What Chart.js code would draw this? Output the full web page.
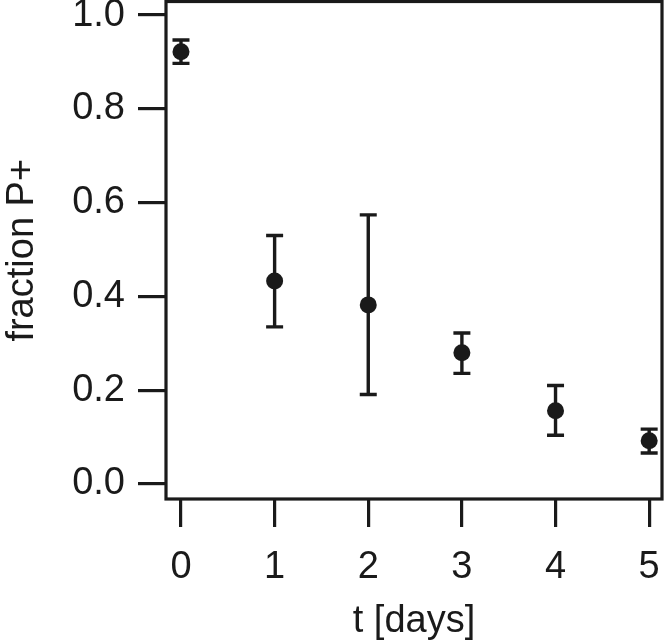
<!DOCTYPE html>
<html>
<head>
<meta charset="utf-8">
<script src="https://cdn.jsdelivr.net/npm/chart.js@4"></script>
<style>
  html, body { margin: 0; padding: 0; background: #fff; }
  #wrap { width: 666px; height: 640px; }
</style>
</head>
<body>
<div id="wrap"><canvas id="fracChart" width="666" height="640"></canvas></div>
<script>
const days = [0, 1, 2, 3, 4, 5];
const fraction = [0.922, 0.433, 0.382, 0.280, 0.156, 0.092];
const upper = [0.947, 0.530, 0.574, 0.322, 0.210, 0.117];
const lower = [0.897, 0.335, 0.191, 0.236, 0.104, 0.066];
const xTicks = [0, 1, 2, 3, 4, 5];
const yTicks = [0, 0.2, 0.4, 0.6, 0.8, 1.0];

const ink = '#1a1a1a';
const font = { family: '"Liberation Sans", Arial, sans-serif', size: 38 };
const titleFont = { family: '"Liberation Sans", Arial, sans-serif', size: 38, lineHeight: 0.95 };

// error bars + frame
const errorBars = {
  id: 'errorBars',
  beforeDatasetsDraw(chart) {
    const { ctx, scales: { x, y } } = chart;
    ctx.save();
    ctx.strokeStyle = ink;
    ctx.lineWidth = 3.4;
    days.forEach((d, i) => {
      const px = x.getPixelForValue(d);
      const top = y.getPixelForValue(upper[i]);
      const bot = y.getPixelForValue(lower[i]);
      ctx.beginPath();
      ctx.moveTo(px, top); ctx.lineTo(px, bot);
      ctx.moveTo(px - 8.5, top); ctx.lineTo(px + 8.5, top);
      ctx.moveTo(px - 8.5, bot); ctx.lineTo(px + 8.5, bot);
      ctx.stroke();
    });
    ctx.restore();
  },
  afterDraw(chart) {
    const { ctx, chartArea: a } = chart;
    ctx.save();
    ctx.strokeStyle = ink;
    ctx.lineWidth = 3.2;
    ctx.strokeRect(a.left, a.top, a.right - a.left, a.bottom - a.top);
    ctx.restore();
  }
};

new Chart(document.getElementById('fracChart').getContext('2d'), {
  type: 'scatter',
  data: {
    datasets: [{
      label: 'fraction P+',
      data: days.map((d, i) => ({ x: d, y: fraction[i] })),
      backgroundColor: ink,
      borderColor: ink,
      pointRadius: 8.5,
      pointHoverRadius: 8.5,
      borderWidth: 0
    }]
  },
  options: {
    responsive: false,
    animation: false,
    events: [],
    layout: { autoPadding: false, padding: { top: 1.5, right: 4, left: 0, bottom: 0 } },
    plugins: { legend: { display: false }, tooltip: { enabled: false } },
    scales: {
      x: {
        type: 'linear',
        min: -0.16,
        max: 5.137,
        afterBuildTicks: s => { s.ticks = xTicks.map(v => ({ value: v })); },
        afterFit: s => { s.height = 141; s.paddingLeft = 0; s.paddingRight = 0; },
        border: { display: false },
        grid: { drawOnChartArea: false, drawTicks: true, tickLength: 28, color: ink, lineWidth: 3.2 },
        ticks: { color: ink, font: font, padding: 18, maxRotation: 0 },
        title: { display: true, text: 't [days]', color: ink, font: titleFont, padding: 0 }
      },
      y: {
        min: -0.032,
        max: 1.029,
        afterBuildTicks: s => { s.ticks = yTicks.map(v => ({ value: v })); },
        afterFit: s => { s.width = 166; s.paddingTop = 0; s.paddingBottom = 0; },
        border: { display: false },
        grid: { drawOnChartArea: false, drawTicks: true, tickLength: 28, color: ink, lineWidth: 3.2 },
        ticks: { color: ink, font: font, padding: 13, callback: v => v.toFixed(1) },
        title: { display: true, text: 'fraction P+', color: ink, font: font, padding: 0 }
      }
    }
  },
  plugins: [errorBars]
});
</script>
</body>
</html>
